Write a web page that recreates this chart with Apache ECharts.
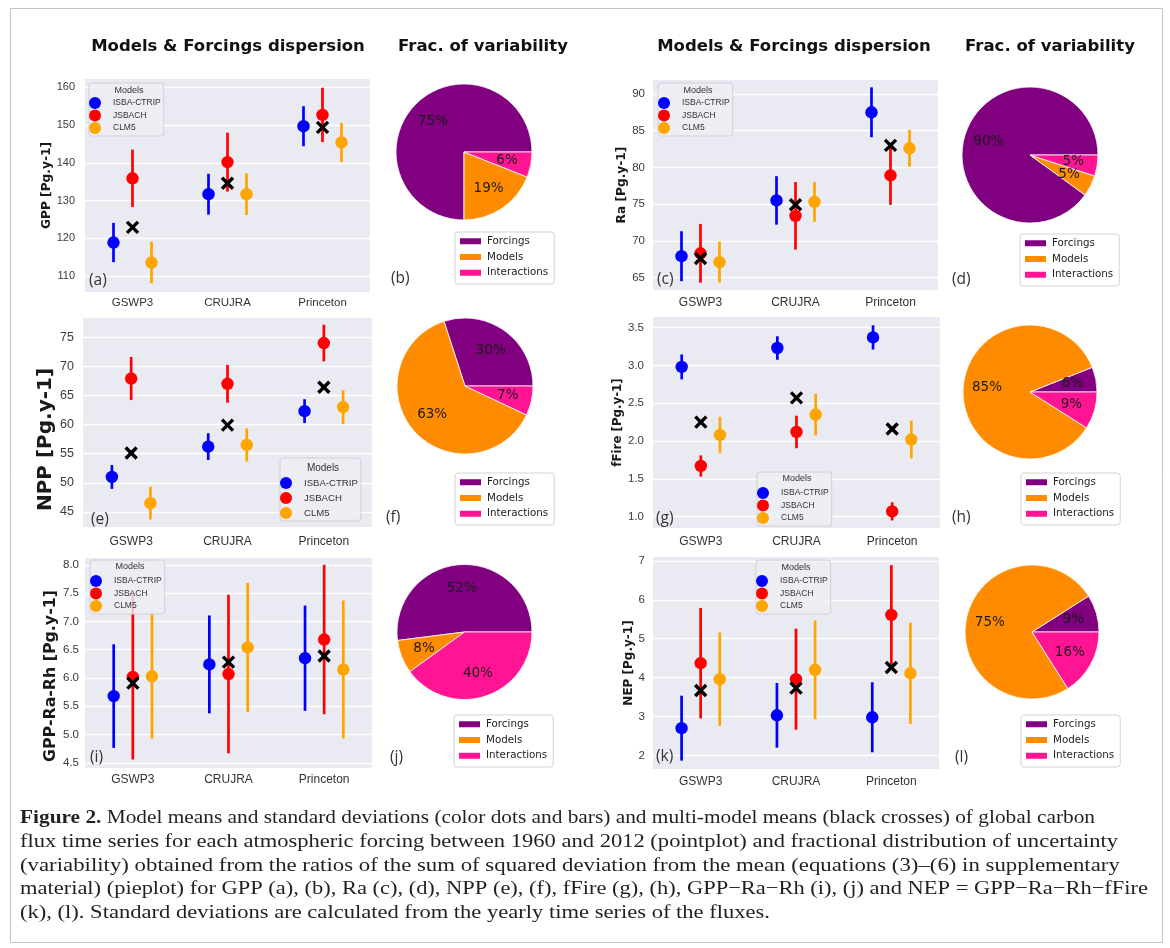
<!DOCTYPE html>
<html>
<head>
<meta charset="utf-8">
<script src="https://cdn.jsdelivr.net/npm/echarts@6/dist/echarts.min.js"></script>
<style>
html,body{margin:0;padding:0;background:#fff;}
#chart{width:1170px;height:948px;}
</style>
</head>
<body>
<div id="chart"></div>
<script>
// ---------------- DATA ----------------
const forcings = ['GSWP3', 'CRUJRA', 'Princeton'];
const models = ['ISBA-CTRIP', 'JSBACH', 'CLM5'];
const modelColors = ['#0000FF', '#FF0000', '#FFA500'];
const fracNames = ['Forcings', 'Models', 'Interactions'];
const fracColors = ['#800080', '#FF8C00', '#FF1493'];

// GPP (rows: ISBA-CTRIP, JSBACH, CLM5; columns: GSWP3, CRUJRA, Princeton)
const gppMean = [[118.9, 131.7, 149.7], [135.9, 140.2, 152.7], [113.6, 131.7, 145.4]];
const gppStd = [[5.2, 5.4, 5.3], [7.6, 7.8, 7.2], [5.5, 5.5, 5.2]];
const gppMulti = [122.9, 134.6, 149.4];
const gppTicks = [110, 120, 130, 140, 150, 160];
const gppFrac = [75, 19, 6];

// Ra
const raMean = [[67.9, 75.5, 87.5], [68.3, 73.4, 78.9], [67.1, 75.3, 82.6]];
const raStd = [[3.4, 3.3, 3.4], [4.0, 4.6, 4.0], [2.8, 2.7, 2.5]];
const raMulti = [67.6, 74.9, 83.0];
const raTicks = [65, 70, 75, 80, 85, 90];
const raFrac = [90, 5, 5];

// NPP
const nppMean = [[51.0, 56.2, 62.3], [67.9, 67.0, 74.0], [46.5, 56.5, 63.0]];
const nppStd = [[2.05, 2.3, 2.05], [3.7, 3.25, 3.15], [2.8, 2.85, 2.9]];
const nppMulti = [55.1, 59.9, 66.4];
const nppTicks = [45, 50, 55, 60, 65, 70, 75];
const nppFrac = [30, 63, 7];

// fFire
const fireMean = [[2.98, 3.23, 3.37], [1.67, 2.12, 1.07], [2.08, 2.35, 2.02]];
const fireStd = [[0.165, 0.155, 0.16], [0.14, 0.215, 0.12], [0.24, 0.275, 0.25]];
const fireMulti = [2.25, 2.57, 2.16];
const fireTicks = [1.0, 1.5, 2.0, 2.5, 3.0, 3.5];
const fireFrac = [6, 85, 9];

// GPP-Ra-Rh
const grrMean = [[5.68, 6.24, 6.35], [6.02, 6.07, 6.68], [6.03, 6.54, 6.15]];
const grrStd = [[0.915, 0.865, 0.93], [1.46, 1.40, 1.32], [1.10, 1.14, 1.22]];
const grrMulti = [5.91, 6.28, 6.39];
const grrTicks = [4.5, 5.0, 5.5, 6.0, 6.5, 7.0, 7.5, 8.0];
const grrFrac = [52, 8, 40];

// NEP
const nepMean = [[2.70, 3.03, 2.98], [4.37, 3.96, 5.61], [3.96, 4.20, 4.11]];
const nepStd = [[0.835, 0.83, 0.9], [1.42, 1.30, 1.28], [1.20, 1.27, 1.30]];
const nepMulti = [3.67, 3.73, 4.26];
const nepTicks = [2, 3, 4, 5, 6, 7];
const nepFrac = [9, 75, 16];

// ---------------- LAYOUT ----------------
const SANS = '"Liberation Sans", Arial, sans-serif';
const DEJAVU = '"DejaVu Sans", sans-serif';
const panels = [
  {mean: gppMean, std: gppStd, multi: gppMulti, ticks: gppTicks, dec: 0, name: 'GPP [Pg.y-1]',
   grid: {left: 85, top: 79, width: 285, height: 213}, min: 105.8, max: 162.2,
   nameCx: 48, nameSize: 12.2, nameShift: 0, tickSize: 11, yMargin: 10, xMargin: 5, xSize: 11.5,
   leg: {left: 89, top: 83, padTop: 14, gap: 0.5, font: 8.5, titleY: 91, cx: 129, tfont: 9},
   letter: {t: '(a)', x: 89, y: 281}},
  {mean: raMean, std: raStd, multi: raMulti, ticks: raTicks, dec: 0, name: 'Ra [Pg.y-1]',
   grid: {left: 653, top: 80, width: 285, height: 210}, min: 63.3, max: 91.9,
   nameCx: 623, nameSize: 12.2, nameShift: 0, tickSize: 11.5, yMargin: 8, xMargin: 7, xSize: 12,
   leg: {left: 658, top: 83, padTop: 14, gap: 0.5, font: 8.5, titleY: 91, cx: 698, tfont: 9},
   letter: {t: '(c)', x: 657, y: 280}},
  {mean: nppMean, std: nppStd, multi: nppMulti, ticks: nppTicks, dec: 0, name: 'NPP [Pg.y-1]',
   grid: {left: 83, top: 318, width: 289, height: 209}, min: 42.4, max: 78.3,
   nameCx: 51, nameSize: 20, nameShift: 17, tickSize: 12.5, yMargin: 9, xMargin: 9, xSize: 12,
   leg: {left: 280, top: 458, padTop: 19, gap: 3, font: 9.6, titleY: 468, cx: 323, tfont: 10},
   letter: {t: '(e)', x: 91, y: 520}},
  {mean: fireMean, std: fireStd, multi: fireMulti, ticks: fireTicks, dec: 1, name: 'fFire [Pg.y-1]',
   grid: {left: 653, top: 317, width: 287, height: 211}, min: 0.85, max: 3.64,
   nameCx: 619, nameSize: 11.8, nameShift: 0, tickSize: 11.5, yMargin: 9, xMargin: 8, xSize: 12,
   leg: {left: 757, top: 472, padTop: 15, gap: 0.5, font: 8.5, titleY: 479, cx: 797, tfont: 9},
   letter: {t: '(g)', x: 656, y: 519}},
  {mean: grrMean, std: grrStd, multi: grrMulti, ticks: grrTicks, dec: 1, name: 'GPP-Ra-Rh [Pg.y-1]',
   grid: {left: 85, top: 558, width: 287, height: 210}, min: 4.41, max: 8.12,
   nameCx: 50, nameSize: 15.8, nameShift: 13, tickSize: 11.5, yMargin: 6, xMargin: 6, xSize: 12,
   leg: {left: 90, top: 560, padTop: 15, gap: 0.5, font: 8.5, titleY: 567, cx: 130, tfont: 9},
   letter: {t: '(i)', x: 90, y: 758}},
  {mean: nepMean, std: nepStd, multi: nepMulti, ticks: nepTicks, dec: 0, name: 'NEP [Pg.y-1]',
   grid: {left: 653, top: 557, width: 286, height: 212}, min: 1.65, max: 7.10,
   nameCx: 629, nameSize: 12, nameShift: 0, tickSize: 11.5, yMargin: 8, xMargin: 7, xSize: 12,
   leg: {left: 756, top: 560, padTop: 15, gap: 0.5, font: 8.5, titleY: 568, cx: 796, tfont: 9},
   letter: {t: '(k)', x: 656, y: 757}}
];
const pies = [
  {frac: gppFrac, center: [464, 152], r: 68, leg: {left: 455, top: 232}, letter: {t: '(b)', x: 391, y: 279}},
  {frac: raFrac, center: [1030, 155], r: 68, leg: {left: 1020, top: 234}, letter: {t: '(d)', x: 952, y: 280}},
  {frac: nppFrac, center: [465, 386], r: 68, leg: {left: 455, top: 473}, letter: {t: '(f)', x: 386, y: 518}},
  {frac: fireFrac, center: [1030, 392], r: 67, leg: {left: 1021, top: 473}, letter: {t: '(h)', x: 952, y: 518}},
  {frac: grrFrac, center: [464.5, 632], r: 67.5, leg: {left: 454, top: 715}, letter: {t: '(j)', x: 390, y: 758}},
  {frac: nepFrac, center: [1032, 632], r: 67, leg: {left: 1021, top: 715}, letter: {t: '(l)', x: 955, y: 758}}
];
const dodges = [-0.2, 0, 0.2];

// ---------------- BUILD ----------------
const grids = [], xAxes = [], yAxes = [], series = [], legends = [], graphics = [];

function modelRenderer(dodge) {
  return function (params, api) {
    const xi = api.value(0), m = api.value(1), s = api.value(2);
    const c = api.coord([xi, m]);
    const band = api.size([1, 0])[0];
    const x = c[0] + dodge * band;
    const top = api.coord([xi, m + s])[1];
    const bot = api.coord([xi, m - s])[1];
    const color = api.visual('color');
    return {type: 'group', children: [
      {type: 'line', shape: {x1: x, y1: top, x2: x, y2: bot}, style: {stroke: color, lineWidth: 2.7}},
      {type: 'circle', shape: {cx: x, cy: c[1], r: 6.2}, style: {fill: color}}
    ]};
  };
}
function crossRenderer(params, api) {
  const c = api.coord([api.value(0), api.value(1)]);
  const h = 5.5;
  const st = {stroke: '#000', lineWidth: 3.4};
  return {type: 'group', children: [
    {type: 'line', shape: {x1: c[0] - h, y1: c[1] - h, x2: c[0] + h, y2: c[1] + h}, style: st},
    {type: 'line', shape: {x1: c[0] - h, y1: c[1] + h, x2: c[0] + h, y2: c[1] - h}, style: st}
  ]};
}

panels.forEach((p, i) => {
  grids.push(Object.assign({show: true, backgroundColor: '#EAEAF2', borderWidth: 0}, p.grid));
  xAxes.push({type: 'category', gridIndex: i, data: forcings,
    axisLine: {show: false}, axisTick: {show: false}, splitLine: {show: false},
    axisLabel: {margin: p.xMargin, fontSize: p.xSize, color: '#333', fontFamily: SANS}});
  yAxes.push({type: 'value', gridIndex: i, min: p.min, max: p.max,
    axisLine: {show: false},
    axisTick: {show: false, customValues: p.ticks},
    axisLabel: {customValues: p.ticks, margin: p.yMargin, fontSize: p.tickSize, color: '#3a3a3a', fontFamily: SANS,
      formatter: v => Number(v).toFixed(p.dec)},
    splitLine: {show: true, customValues: p.ticks, lineStyle: {color: '#ffffff', width: 1.3}},
    name: p.name, nameLocation: 'middle',
    nameGap: p.grid.left - p.nameCx - p.nameSize / 2 - 1,
    nameTextStyle: {fontWeight: 'bold', fontSize: p.nameSize, fontFamily: DEJAVU, color: '#1a1a1a',
      padding: [0, 2 * p.nameShift, 0, 0]}});
  models.forEach((m, k) => {
    series.push({type: 'custom', name: m, xAxisIndex: i, yAxisIndex: i,
      itemStyle: {color: modelColors[k]}, silent: true, z: 2 + k * 0.1,
      renderItem: modelRenderer(dodges[k]),
      data: forcings.map((f, j) => [j, p.mean[k][j], p.std[k][j]])});
  });
  series.push({type: 'custom', name: 'Multi-model mean', xAxisIndex: i, yAxisIndex: i, silent: true, z: 3,
    itemStyle: {color: '#000'}, renderItem: crossRenderer,
    data: forcings.map((f, j) => [j, p.multi[j]])});
  const L = p.leg;
  legends.push({data: models, orient: 'vertical', left: L.left, top: L.top, icon: 'circle',
    itemWidth: 26, itemHeight: 12, itemGap: L.gap, selectedMode: false, z: 10,
    padding: [L.padTop, 3, 2, 0], backgroundColor: 'rgba(238,238,244,0.82)',
    borderColor: '#cfd0d9', borderWidth: 1, borderRadius: 3,
    textStyle: {fontSize: L.font, color: '#333', fontFamily: SANS, lineHeight: 12}});
  graphics.push({type: 'text', z: 20, style: {text: 'Models', x: L.cx, y: L.titleY, align: 'center', verticalAlign: 'middle',
    fontSize: L.tfont, fontFamily: SANS, fill: '#333'}});
  graphics.push({type: 'text', z: 20, style: {text: p.letter.t, x: p.letter.x, y: p.letter.y, verticalAlign: 'middle',
    fontSize: 15.5, fontFamily: '"Open Sans", sans-serif', fill: '#333'}});
});

pies.forEach((q) => {
  series.push({type: 'pie', center: q.center, radius: q.r, startAngle: 0, clockwise: false, silent: true,
    label: {show: false}, labelLine: {show: false}, emphasis: {disabled: true},
    itemStyle: {borderColor: '#ffffff', borderWidth: 0.8},
    data: fracNames.map((n, k) => ({name: n, value: q.frac[k], itemStyle: {color: fracColors[k]}}))});
  // label layer: same slices, transparent, labels placed at 0.6 r
  series.push({type: 'pie', center: q.center, radius: [q.r * 0.2, q.r], startAngle: 0, clockwise: false, silent: true,
    z: 4, emphasis: {disabled: true}, itemStyle: {color: 'rgba(0,0,0,0)'},
    avoidLabelOverlap: false, labelLayout: {hideOverlap: false},
    label: {show: true, position: 'inside', formatter: '{c}%', fontSize: 13.5, fontFamily: DEJAVU, color: '#1a1a1a'},
    labelLine: {show: false},
    data: q.frac.map(v => ({value: v}))});
  legends.push({data: fracNames, orient: 'vertical', left: q.leg.left, top: q.leg.top, icon: 'rect',
    itemWidth: 23, itemHeight: 8, itemGap: 3.7, selectedMode: false,
    padding: [3.3, 6, 5.3, 3], backgroundColor: '#ffffff', borderColor: '#d3d3d3', borderWidth: 1, borderRadius: 3,
    textStyle: {fontSize: 10.3, color: '#222', fontFamily: DEJAVU, lineHeight: 12}});
  graphics.push({type: 'text', z: 20, style: {text: q.letter.t, x: q.letter.x, y: q.letter.y, verticalAlign: 'middle',
    fontSize: 15.5, fontFamily: '"Open Sans", sans-serif', fill: '#333'}});
});

// column titles
[['Models & Forcings dispersion', 228], ['Frac. of variability', 483],
 ['Models & Forcings dispersion', 794], ['Frac. of variability', 1050]].forEach(t => {
  graphics.push({type: 'text', style: {text: t[0], x: t[1], y: 47, align: 'center', verticalAlign: 'middle',
    fontSize: 16.5, fontWeight: 'bold', fontFamily: DEJAVU, fill: '#111'}});
});

// outer frame
graphics.push({type: 'rect', z: -1, shape: {x: 10.5, y: 8.5, width: 1152, height: 934},
  style: {fill: 'none', stroke: '#c4c4c4', lineWidth: 1}});

// caption
const captionBold = 'Figure 2.';
const captionLines = [
  ' Model means and standard deviations (color dots and bars) and multi-model means (black crosses) of global carbon',
  'flux time series for each atmospheric forcing between 1960 and 2012 (pointplot) and fractional distribution of uncertainty',
  '(variability) obtained from the ratios of the sum of squared deviation from the mean (equations (3)–(6) in supplementary',
  'material) (pieplot) for GPP (a), (b), Ra (c), (d), NPP (e), (f), fFire (g), (h), GPP−Ra−Rh (i), (j) and NEP = GPP−Ra−Rh−fFire',
  '(k), (l). Standard deviations are calculated from the yearly time series of the fluxes.'
];
const captionRight = [1095, 1118, 1122, 1148, 770];   // right ends of the caption lines (layout)
const SERIF = '"Liberation Serif", "Times New Roman", serif';
const capSize = 19;
const ctx = document.createElement('canvas').getContext('2d');
captionLines.forEach((ln, k) => {
  let w = 0;
  if (k === 0) { ctx.font = 'bold ' + capSize + 'px "Liberation Serif"'; w += ctx.measureText(captionBold).width; }
  ctx.font = capSize + 'px "Liberation Serif"';
  w += ctx.measureText(ln).width;
  const sx = Math.max(0.9, Math.min(1.2, (captionRight[k] - 20) / w));
  const txt = k === 0 ? '{b|' + captionBold + '}' + ln : ln;
  graphics.push({type: 'text', x: 20, y: 818 + k * 23.8, scaleX: sx,
    style: {text: txt, x: 0, y: 0, verticalAlign: 'middle',
      fontSize: capSize, fontFamily: SERIF, fill: '#231f20',
      rich: {b: {fontWeight: 'bold', fontSize: capSize, fontFamily: SERIF, fill: '#231f20'}}}});
});

const chart = echarts.init(document.getElementById('chart'), null, {renderer: 'canvas'});
chart.setOption({
  animation: false,
  backgroundColor: '#ffffff',
  grid: grids, xAxis: xAxes, yAxis: yAxes,
  legend: legends,
  series: series,
  graphic: {elements: graphics}
});
</script>
</body>
</html>
